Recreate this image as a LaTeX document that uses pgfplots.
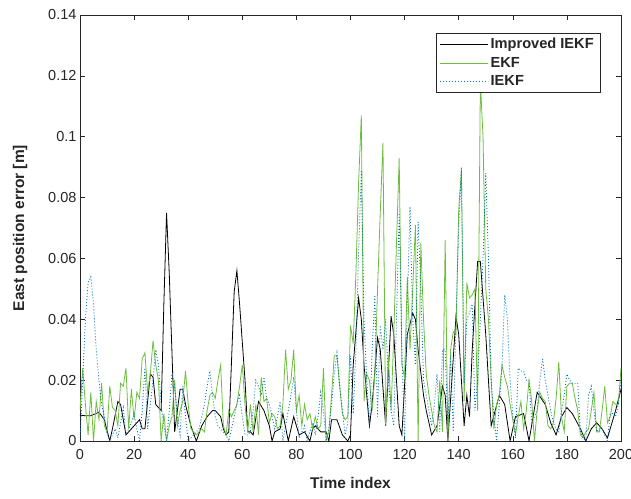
\documentclass[border=0pt]{standalone}
\usepackage{fontspec}
\setmainfont{Liberation Sans}
\usepackage{pgfplots}
\pgfplotsset{compat=1.18}
\usetikzlibrary{calc}
\definecolor{ekfgreen}{RGB}{108,190,62}
\definecolor{iekfblue}{RGB}{0,114,189}
\definecolor{axgray}{RGB}{38,38,38}

\begin{document}
\begin{tikzpicture}
\begin{axis}[
  scale only axis,
  width=541pt, height=426pt,
  xmin=0, xmax=200, ymin=0, ymax=0.14,
  xtick={0,20,40,60,80,100,120,140,160,180,200},
  ytick={0,0.02,0.04,0.06,0.08,0.1,0.12,0.14},
  scaled y ticks=false,
  yticklabel style={/pgf/number format/fixed, /pgf/number format/precision=2},
  /pgf/number format/assume math mode=true,
  tick align=inside, tick pos=both,
  major tick length=5pt,
  axis line style={axgray, line width=0.6pt},
  tick style={axgray, line width=0.6pt},
  tick label style={font=\fontsize{14.5}{16}\selectfont, text=axgray},
  xticklabel style={yshift=-5pt},
  label style={font=\bfseries\fontsize{15.5}{17}\selectfont, text=axgray},
  xlabel style={yshift=-11pt},
  ylabel style={yshift=14pt},
  xlabel={Time index},
  ylabel={East position error [m]},
  legend cell align=left,
  legend style={at={(0.961,0.958)}, anchor=north east, draw=axgray,
    font=\bfseries\fontsize{14.6}{16}\selectfont, text=axgray,
    inner xsep=4pt, inner ysep=3pt, row sep=3pt},
  legend image code/.code={\draw[#1] (0pt,0pt) -- (48pt,0pt);},
]
% Improved IEKF
\addplot[black, line width=0.8pt] coordinates {
(0,0.0085) (2,0.0083) (4,0.0083) (7,0.0095) (9,0.007) (11,0.000) (12,0.004)
(14,0.013) (15,0.012) (17,0.002) (19,0.004) (21,0.006) (22,0.007) (23,0.004)
(24,0.004) (26,0.022) (27,0.021) (28,0.012) (30,0.010) (31,0.045) (32,0.075)
(33,0.055) (35,0.003) (36,0.010) (37,0.017) (38,0.017) (39,0.012) (41,0.005)
(43,0.000) (45,0.005) (47,0.008) (49,0.010) (50,0.010) (52,0.008) (53,0.004)
(54,0.002) (55,0.003) (57,0.049) (58,0.056) (59,0.045) (61,0.020) (62,0.003)
(63,0.003) (64,0.002) (66,0.013) (68,0.010) (70,0.005) (71,0.000) (72,0.003)
(74,0.004) (75,0.009) (77,0.000) (79,0.008) (81,0.002) (83,0.003) (85,0.000)
(86,0.004) (87,0.005) (89,0.003) (91,0.003) (92,0.000) (93,0.007) (95,0.007)
(97,0.002) (99,0.000) (100,0.002) (101,0.025) (103,0.047) (104,0.040)
(105,0.025) (107,0.005) (108,0.012) (110,0.034) (111,0.030) (113,0.005)
(115,0.041) (116,0.035) (118,0.005) (119,0.002) (121,0.035) (123,0.042)
(124,0.040) (125,0.030) (127,0.015) (128,0.010) (130,0.002) (132,0.005)
(134,0.018) (135,0.015) (136,0.000) (139,0.041) (140,0.035) (142,0.005)
(143,0.015) (144,0.008) (145,0.030) (147,0.059) (148,0.059) (150,0.035)
(152,0.005) (155,0.015) (157,0.012) (159,0.000) (161,0.008) (164,0.009)
(166,0.000) (169,0.016) (172,0.012) (174,0.006) (176,0.002) (178,0.008)
(180,0.011) (182,0.009) (185,0.004) (187,0.000) (189,0.004) (191,0.006)
(193,0.004) (195,0.001) (198,0.010) (200,0.017)
};
% EKF
\addplot[ekfgreen, line width=0.8pt] coordinates {
(0,0.010) (1,0.024) (2,0.012) (3,0.002) (4,0.016) (5,0.000) (6,0.013) (7,0.007)
(8,0.019) (9,0.005) (10,0.003) (11,0.018) (12,0.011) (13,0.010) (14,0.005)
(15,0.019) (16,0.018) (17,0.024) (18,0.004) (19,0.017) (20,0.007) (21,0.016)
(22,0.014) (23,0.027) (24,0.029) (25,0.016) (26,0.022) (27,0.033) (28,0.025)
(29,0.020) (30,0.000) (31,0.009) (32,0.000) (33,0.005) (34,0.008) (35,0.020)
(36,0.005) (37,0.010) (38,0.013) (39,0.023) (40,0.012) (41,0.004) (42,0.003)
(43,0.002) (44,0.003) (45,0.004) (46,0.003) (47,0.010) (48,0.015) (49,0.016)
(50,0.014) (51,0.020) (52,0.025) (53,0.005) (54,0.002) (55,0.010) (56,0.008)
(57,0.010) (58,0.012) (59,0.018) (60,0.025) (61,0.012) (62,0.003) (63,0.012)
(64,0.003) (65,0.012) (66,0.002) (67,0.021) (68,0.013) (69,0.014) (70,0.006)
(71,0.009) (72,0.008) (73,0.004) (74,0.005) (75,0.012) (76,0.030) (77,0.017)
(78,0.020) (79,0.030) (80,0.010) (81,0.015) (82,0.005) (83,0.012) (84,0.007)
(85,0.009) (86,0.004) (87,0.008) (88,0.004) (89,0.005) (90,0.024) (91,0.000)
(92,0.003) (93,0.015) (94,0.028) (95,0.028) (96,0.018) (97,0.009) (98,0.007)
(99,0.008) (100,0.038) (101,0.032) (102,0.055) (103,0.085) (104,0.107)
(105,0.013) (106,0.022) (107,0.020) (108,0.010) (109,0.022) (110,0.050)
(111,0.075) (112,0.098) (113,0.005) (114,0.028) (115,0.010) (116,0.035)
(117,0.065) (118,0.093) (119,0.025) (120,0.021) (121,0.054) (122,0.030)
(123,0.050) (124,0.071) (125,0.000) (126,0.065) (127,0.040) (128,0.022)
(129,0.015) (130,0.010) (131,0.005) (132,0.003) (133,0.020) (134,0.003)
(135,0.066) (136,0.000) (137,0.030) (138,0.036) (139,0.035) (140,0.076)
(141,0.089) (142,0.013) (143,0.052) (144,0.047) (145,0.048) (146,0.050)
(147,0.010) (148,0.118) (149,0.100) (150,0.050) (151,0.040) (152,0.020)
(153,0.004) (154,0.012) (155,0.015) (156,0.025) (157,0.021) (158,0.018)
(159,0.012) (160,0.007) (161,0.002) (162,0.008) (163,0.013) (164,0.004)
(165,0.010) (166,0.020) (167,0.013) (168,0.000) (169,0.010) (170,0.016)
(171,0.014) (172,0.013) (173,0.005) (174,0.004) (175,0.006) (176,0.014)
(177,0.026) (178,0.008) (179,0.003) (180,0.018) (181,0.019) (182,0.019)
(183,0.014) (184,0.010) (185,0.002) (186,0.001) (187,0.003) (188,0.004)
(189,0.010) (190,0.016) (191,0.003) (192,0.003) (193,0.010) (194,0.018)
(195,0.006) (196,0.008) (197,0.013) (198,0.012) (199,0.012) (200,0.024)
};
% IEKF
\addplot[iekfblue, line width=0.8pt, dash pattern=on 1pt off 2pt] coordinates {
(0,0.000) (1,0.020) (2,0.040) (3,0.052) (4,0.054) (5,0.045) (6,0.030) (7,0.020)
(8,0.012) (9,0.008) (10,0.002) (11,0.000) (12,0.002) (13,0.004) (14,0.001)
(15,0.006) (16,0.011) (17,0.002) (18,0.004) (19,0.006) (20,0.009) (21,0.004)
(22,0.000) (23,0.010) (24,0.024) (25,0.004) (26,0.012) (27,0.020) (28,0.030)
(29,0.025) (30,0.012) (31,0.005) (32,0.000) (33,0.010) (34,0.022) (35,0.018)
(36,0.008) (37,0.002) (38,0.018) (39,0.008) (40,0.000) (41,0.001) (42,0.002)
(43,0.003) (44,0.004) (45,0.008) (46,0.012) (47,0.018) (48,0.023) (49,0.015)
(50,0.008) (51,0.005) (52,0.004) (53,0.003) (54,0.002) (55,0.000) (56,0.004)
(57,0.008) (58,0.012) (59,0.015) (60,0.008) (61,0.002) (62,0.002) (63,0.003)
(64,0.010) (65,0.020) (66,0.018) (67,0.015) (68,0.021) (69,0.014) (70,0.012)
(71,0.008) (72,0.004) (73,0.008) (74,0.013) (75,0.000) (76,0.005) (77,0.010)
(78,0.015) (79,0.021) (80,0.010) (81,0.001) (82,0.003) (83,0.005) (84,0.000)
(85,0.003) (86,0.006) (87,0.002) (88,0.008) (89,0.016) (90,0.010) (91,0.000)
(92,0.004) (93,0.012) (94,0.022) (95,0.029) (96,0.018) (97,0.010) (98,0.002)
(99,0.006) (100,0.028) (101,0.009) (102,0.030) (103,0.062) (104,0.089)
(105,0.040) (106,0.020) (107,0.005) (108,0.030) (109,0.048) (110,0.008)
(111,0.038) (112,0.030) (113,0.040) (114,0.020) (115,0.010) (116,0.005)
(117,0.040) (118,0.075) (119,0.030) (120,0.000) (121,0.045) (122,0.077)
(123,0.040) (124,0.025) (125,0.072) (126,0.050) (127,0.020) (128,0.015)
(129,0.010) (130,0.005) (131,0.012) (132,0.022) (133,0.003) (134,0.030)
(135,0.030) (136,0.005) (137,0.028) (138,0.003) (139,0.040) (140,0.070)
(141,0.090) (142,0.019) (143,0.040) (144,0.042) (145,0.045) (146,0.010)
(147,0.020) (148,0.040) (149,0.060) (150,0.088) (151,0.060) (152,0.020)
(153,0.008) (154,0.000) (155,0.012) (156,0.024) (157,0.048) (158,0.040)
(159,0.020) (160,0.008) (161,0.001) (162,0.024) (163,0.023) (164,0.023)
(165,0.020) (166,0.020) (167,0.006) (168,0.008) (169,0.010) (170,0.020)
(171,0.027) (172,0.020) (173,0.015) (174,0.010) (175,0.006) (176,0.004)
(177,0.003) (178,0.010) (179,0.015) (180,0.022) (181,0.020) (182,0.019)
(183,0.019) (184,0.019) (185,0.003) (186,0.001) (187,0.000) (188,0.015)
(189,0.018) (190,0.010) (191,0.003) (192,0.004) (193,0.004) (194,0.002)
(195,0.000) (196,0.009) (197,0.009) (198,0.008) (199,0.012) (200,0.020)
};
\legend{Improved IEKF, EKF, IEKF}
\end{axis}
\pgfresetboundingbox
\path ($(current axis.south west)+(-80pt,-57pt)$) rectangle ($(current axis.north east)+(10pt,15pt)$);
\end{tikzpicture}
\end{document}
